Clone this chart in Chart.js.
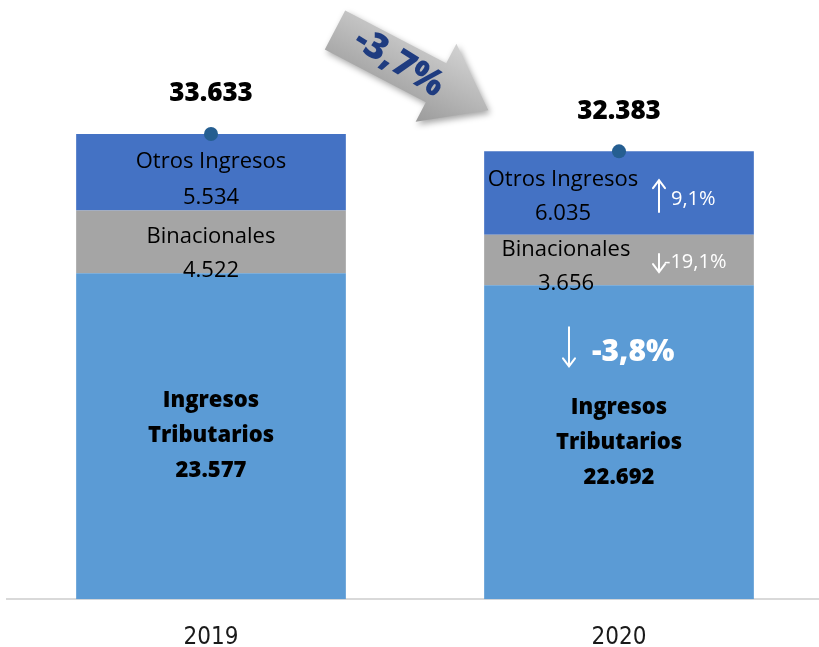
<!DOCTYPE html>
<html>
<head>
<meta charset="utf-8">
<script src="https://cdn.jsdelivr.net/npm/chart.js@4.4.1/dist/chart.umd.min.js"></script>
<style>
  html, body { margin: 0; padding: 0; background: #fff; overflow: hidden; }
  #wrap { width: 830px; height: 647px; }
</style>
</head>
<body>
<div id="wrap"><canvas id="chart" width="830" height="647"></canvas></div>
<script>
// Datos (millones)
const categories = ['2019', '2020'];
const tributarios = [23577, 22692];
const binacionales = [4522, 3656];
const otros = [5534, 6035];
const totales = [33633, 32383];

// Variaciones 2020 vs 2019
const varTotal = '-3,7%';
const varTributarios = '-3,8%';
const varBinacionales = '-19,1%';
const varOtros = '9,1%';

const FONT = '"Open Sans", "Noto Sans", sans-serif';

function fmt(v) {
    return String(v).replace(/\B(?=(\d{3})+(?!\d))/g, '.');
}

// Flecha fina vertical desde y0 hasta y1 (punta en y1)
function thinArrow(ctx, x, y0, y1, color) {
    ctx.save();
    ctx.strokeStyle = color;
    ctx.lineWidth = 2;
    ctx.lineCap = 'round';
    ctx.beginPath();
    ctx.moveTo(x, y0);
    ctx.lineTo(x, y1);
    const d = y1 > y0 ? -1 : 1;
    ctx.moveTo(x - 6, y1 + d * 8);
    ctx.lineTo(x, y1);
    ctx.lineTo(x + 6, y1 + d * 8);
    ctx.stroke();
    ctx.restore();
}

function text(ctx, str, x, y, font, color, align) {
    ctx.font = font;
    ctx.fillStyle = color;
    ctx.textAlign = align || 'center';
    ctx.textBaseline = 'middle';
    ctx.fillText(str, x, y);
}

const labelsPlugin = {
    id: 'labels',
    afterDatasetsDraw(chart) {
        const ctx = chart.ctx;
        const trib = chart.getDatasetMeta(0).data;
        const bin = chart.getDatasetMeta(1).data;
        const otr = chart.getDatasetMeta(2).data;
        const tot = chart.getDatasetMeta(3).data;
        const reg = '22px ' + FONT;
        const bold = '800 22px ' + FONT;
        ctx.save();

        // Otros Ingresos
        const otrPos = [{ dx: 0, d1: -11, d2: 25 }, { dx: -56, d1: -13, d2: 21 }];
        otr.forEach((b, i) => {
            const c = (b.y + b.base) / 2;
            const p = otrPos[i];
            text(ctx, 'Otros Ingresos', b.x + p.dx, c + p.d1, reg, '#000');
            text(ctx, fmt(otros[i]), b.x + p.dx, c + p.d2, reg, '#000');
        });

        // Binacionales
        const binPos = [{ dx: 0, d1: -5.5, d2: 28.5 }, { dx: -53, d1: -10.5, d2: 23.5 }];
        bin.forEach((b, i) => {
            const c = (b.y + b.base) / 2;
            const p = binPos[i];
            text(ctx, 'Binacionales', b.x + p.dx, c + p.d1, reg, '#000');
            text(ctx, fmt(binacionales[i]), b.x + p.dx, c + p.d2, reg, '#000');
        });

        // Ingresos Tributarios
        trib.forEach((b, i) => {
            const c = (b.y + b.base) / 2;
            text(ctx, 'Ingresos', b.x, c - 35, bold, '#000');
            text(ctx, 'Tributarios', b.x, c, bold, '#000');
            text(ctx, fmt(tributarios[i]), b.x, c + 35, bold, '#000');
        });

        // Totales
        tot.forEach((pt, i) => {
            text(ctx, fmt(totales[i]), pt.x, pt.y - 40, '800 26px ' + FONT, '#000');
        });

        // Variaciones 2020
        const o = otr[1], oc = (o.y + o.base) / 2;
        thinArrow(ctx, o.x + 40, oc + 19, oc - 13, '#fff');
        text(ctx, varOtros, o.x + 52, oc + 6, '20px ' + FONT, '#fff', 'left');

        const bn = bin[1], bc = (bn.y + bn.base) / 2;
        thinArrow(ctx, bn.x + 40, bc - 6, bc + 12, '#fff');
        text(ctx, varBinacionales, bn.x + 45, bc + 2, '20px ' + FONT, '#fff', 'left');

        const t = trib[1], tc = (t.y + t.base) / 2;
        thinArrow(ctx, t.x - 50, tc - 115, tc - 76, '#fff');
        text(ctx, varTributarios, t.x - 27, tc - 90, '800 30px ' + FONT, '#fff', 'left');

        // Flecha gris de variación total
        const mid = (tot[0].x + tot[1].x) / 2;
        const ax = mid - 80, ay = chart.chartArea.top - 16;
        ctx.save();
        ctx.translate(ax, ay);
        ctx.rotate(27.6 * Math.PI / 180);
        ctx.beginPath();
        ctx.moveTo(0, -22);
        ctx.lineTo(114, -22);
        ctx.lineTo(114, -44);
        ctx.lineTo(173, 0);
        ctx.lineTo(114, 44);
        ctx.lineTo(114, 22);
        ctx.lineTo(0, 22);
        ctx.closePath();
        const g = ctx.createLinearGradient(0, -44, 0, 44);
        g.addColorStop(0, '#d2d2d2');
        g.addColorStop(1, '#9b9b9b');
        ctx.fillStyle = g;
        ctx.shadowColor = 'rgba(0,0,0,0.35)';
        ctx.shadowBlur = 6;
        ctx.shadowOffsetX = 2;
        ctx.shadowOffsetY = 3;
        ctx.fill();
        ctx.restore();

        ctx.save();
        ctx.translate(mid - 16, ay + 33);
        ctx.rotate(32 * Math.PI / 180);
        text(ctx, varTotal, 0, 0, '800 36px ' + FONT, '#1f3c80');
        ctx.restore();

        ctx.restore();
    }
};

new Chart(document.getElementById('chart'), {
    type: 'bar',
    data: {
        labels: categories,
        datasets: [
            { label: 'Ingresos Tributarios', data: tributarios, backgroundColor: '#5B9BD5', order: 1 },
            { label: 'Binacionales', data: binacionales, backgroundColor: '#A5A5A5', order: 1 },
            { label: 'Otros Ingresos', data: otros, backgroundColor: '#4472C4', order: 1 },
            {
                type: 'line', label: 'Total', data: totales, showLine: false, order: 0,
                pointRadius: 7, pointBackgroundColor: '#255E91', pointBorderWidth: 0
            }
        ]
    },
    options: {
        responsive: false,
        animation: false,
        layout: { padding: { top: 46, left: 1, right: 3, bottom: -29 } },
        datasets: { bar: { categoryPercentage: 1, barPercentage: 0.661, borderWidth: 0 } },
        plugins: { legend: { display: false }, tooltip: { enabled: false } },
        scales: {
            x: {
                stacked: true,
                grid: { display: false, drawTicks: false },
                border: { display: true, color: '#d9d9d9', width: 2 },
                ticks: {
                    padding: 24,
                    color: '#1a1a1a',
                    font: { family: '"DejaVu Sans Condensed", "Liberation Sans Narrow", sans-serif', size: 24 }
                }
            },
            y: { stacked: true, display: false, min: 0, max: 40000 }
        }
    },
    plugins: [labelsPlugin]
});
</script>
</body>
</html>
